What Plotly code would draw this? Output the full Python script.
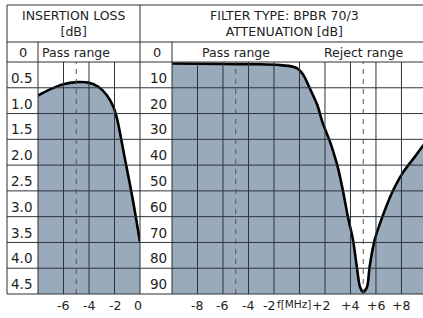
import plotly.graph_objects as go

# ---------------- data ----------------
LEFT_F = [-8, -7.06, -6.02, -4.96, -4.05, -3.27, -2.61, -2.09, -1.78, -1.51, -1.18, -0.57, 0]
LEFT_LOSS = [0.65, 0.53, 0.43, 0.39, 0.40, 0.48, 0.64, 0.87, 1.12, 1.45, 1.88, 2.66, 3.49]

RIGHT_F = [-10, -6, -3.1, -1.5, -0.5, -0.1, 0.3, 0.8, 1.4, 1.8, 2.4, 2.8, 3.0, 3.4, 3.8,
           4.2, 4.5, 4.75, 5.0, 5.3, 5.5, 5.9, 6.5, 7.25, 8.1, 9.05, 9.69, 10]
RIGHT_ATT = [0.6, 0.8, 0.9, 1.2, 1.8, 2.7, 5.0, 10.1, 16.7, 23.3, 31, 37.2, 40.7, 49.7, 60.1,
             69, 79.5, 87.3, 89.2, 87.3, 79.5, 69, 60.1, 50.8, 43, 36.8, 32.5, 31]

LEFT_ROW_LABELS = ["0.5", "1.0", "1.5", "2.0", "2.5", "3.0", "3.5", "4.0", "4.5"]
LEFT_ROW_VALUES = [0.5, 1.0, 1.5, 2.0, 2.5, 3.0, 3.5, 4.0, 4.5]
RIGHT_ROW_LABELS = ["10", "20", "30", "40", "50", "60", "70", "80", "90"]
RIGHT_ROW_VALUES = [10, 20, 30, 40, 50, 60, 70, 80, 90]

LEFT_TICKS = [-6, -4, -2, 0]
LEFT_TICK_TEXT = ["-6", "-4", "-2", "0"]
RIGHT_TICKS = [-8, -6, -4, -2, 0, 2, 4, 6, 8]
RIGHT_TICK_TEXT = ["-8", "-6", "-4", "-2", "f[MHz]", "+2", "+4", "+6", "+8"]
RIGHT_TICK_SHIFT = [0, 0, 0, -5, -5.5, -3.5, 0, 0, 0]

LEFT_GRID_X = [-6, -4, -2]
RIGHT_GRID_X = [-8, -6, -4, -2, 0, 2, 4, 6, 8]
LEFT_DASH_X = [-5]
RIGHT_DASH_X = [-5, 5]
RANGE_LABELS = ["Pass range", "Reject range"]
RANGE_CENTERS = [-5, 5]

LEFT_XRANGE = [-8, 0]
LEFT_YMAX = 4.5
RIGHT_XRANGE = [-10, 9.69]
RIGHT_YMAX = 90

# ---------------- layout helpers ----------------
W, H = 423, 318
def px(x):
    return x / W
def py(y):
    return 1 - y / H

FILL = "#99aabb"
LINE = "#2e2e2e"
GRID = "#2b333d"
TXT = "#222222"
FONT = "DejaVu Sans"

fig = go.Figure()

# left fill + curve
fig.add_trace(go.Scatter(x=LEFT_F, y=[LEFT_YMAX] * len(LEFT_F), mode="lines",
                         line=dict(width=0), showlegend=False, hoverinfo="skip",
                         xaxis="x", yaxis="y"))
fig.add_trace(go.Scatter(x=LEFT_F, y=LEFT_LOSS, mode="lines", fill="tonexty",
                         fillcolor=FILL, line=dict(color="black", width=2.6, shape="spline", smoothing=0.8),
                         showlegend=False, xaxis="x", yaxis="y"))
# right fill + curve
fig.add_trace(go.Scatter(x=RIGHT_F, y=[RIGHT_YMAX] * len(RIGHT_F), mode="lines",
                         line=dict(width=0), showlegend=False, hoverinfo="skip",
                         xaxis="x2", yaxis="y2"))
fig.add_trace(go.Scatter(x=RIGHT_F, y=RIGHT_ATT, mode="lines", fill="tonexty",
                         fillcolor=FILL, line=dict(color="black", width=2.6, shape="spline", smoothing=0.8),
                         showlegend=False, xaxis="x2", yaxis="y2"))

X_L0, X_L1, X_R0 = 38, 140, 172
Y_TOP, Y_HDR, Y_ROW, Y_BOT = 62, 42, 62, 294
Y_DOM = [py(Y_BOT), py(Y_TOP)]

ax_common = dict(showgrid=False, zeroline=False, showticklabels=False, ticks="",
                 showline=False, fixedrange=True)
fig.update_layout(
    width=W, height=H, margin=dict(l=0, r=0, t=0, b=0),
    paper_bgcolor="white", plot_bgcolor="white",
    xaxis=dict(domain=[px(X_L0), px(X_L1)], range=LEFT_XRANGE, anchor="y", **ax_common),
    yaxis=dict(domain=Y_DOM, range=[LEFT_YMAX, 0], anchor="x", **ax_common),
    xaxis2=dict(domain=[px(X_R0), 1], range=RIGHT_XRANGE, anchor="y2", **ax_common),
    yaxis2=dict(domain=Y_DOM, range=[RIGHT_YMAX, 0], anchor="x2", **ax_common),
    showlegend=False,
)

shapes = []
# gridlines above fill
for v in LEFT_ROW_VALUES[:-1]:
    shapes.append(dict(type="line", xref="paper", yref="y", x0=px(7), x1=1, y0=v, y1=v,
                       line=dict(color=GRID, width=1), layer="above"))
for v in LEFT_GRID_X:
    shapes.append(dict(type="line", xref="x", yref="y domain", x0=v, x1=v, y0=0, y1=1,
                       line=dict(color=GRID, width=1), layer="above"))
for v in RIGHT_GRID_X:
    shapes.append(dict(type="line", xref="x2", yref="y2 domain", x0=v, x1=v, y0=0, y1=1,
                       line=dict(color=GRID, width=1), layer="above"))
for v in LEFT_DASH_X:
    shapes.append(dict(type="line", xref="x", yref="y domain", x0=v, x1=v, y0=0, y1=1,
                       line=dict(color="#555555", width=1, dash="5px,5px"), layer="above"))
for v in RIGHT_DASH_X:
    shapes.append(dict(type="line", xref="x2", yref="y2 domain", x0=v, x1=v, y0=0, y1=1,
                       line=dict(color="#555555", width=1, dash="5px,5px"), layer="above"))

# frame
def hline(y, x0, x1):
    shapes.append(dict(type="line", xref="paper", yref="paper", x0=px(x0), x1=px(x1),
                       y0=py(y), y1=py(y), line=dict(color=LINE, width=1), layer="above"))
def vline(x, y0, y1):
    shapes.append(dict(type="line", xref="paper", yref="paper", x0=px(x), x1=px(x),
                       y0=py(y0), y1=py(y1), line=dict(color=LINE, width=1), layer="above"))

hline(5, 7, W)
hline(Y_HDR, 7, W)
hline(Y_ROW, 7, W)
hline(Y_BOT, 7, W)
vline(7, 5, Y_BOT)
vline(X_L0, Y_HDR, Y_BOT)
vline(X_L1, 5, Y_BOT)
vline(X_R0, Y_HDR, Y_BOT)
fig.update_layout(shapes=shapes)

ann = []
def text(t, x, y, xref="paper", yref="paper", size=12.5, xshift=0, yshift=0):
    ann.append(dict(text=t, x=x, y=y, xref=xref, yref=yref, showarrow=False,
                    xanchor="center", yanchor="middle", xshift=xshift, yshift=yshift,
                    font=dict(family=FONT, size=size, color=TXT)))

text("INSERTION LOSS<br>[dB]", px(73), py(24))
text("FILTER TYPE: BPBR 70/3<br>ATTENUATION [dB]", px(284), py(24))
text("0", px(22.5), py(53), size=13)
text("0", px(157), py(53), size=13)
text(RANGE_LABELS[0], RANGE_CENTERS[0], py(53), xref="x")
for lab, c in zip(RANGE_LABELS, RANGE_CENTERS):
    text(lab, c, py(53), xref="x2")
for lab, v in zip(LEFT_ROW_LABELS, LEFT_ROW_VALUES):
    text(lab, px(21), v - 0.25, yref="y", size=13.5, yshift=-3)
for lab, v in zip(RIGHT_ROW_LABELS, RIGHT_ROW_VALUES):
    text(lab, px(158), v - 5, yref="y2", size=13.5, yshift=-3)
for lab, v in zip(LEFT_TICK_TEXT, LEFT_TICKS):
    text(lab, v, py(305), xref="x", size=12.5, xshift=-2 if v == 0 else 0)
for lab, v, s in zip(RIGHT_TICK_TEXT, RIGHT_TICKS, RIGHT_TICK_SHIFT):
    is_unit = lab.startswith("f")
    text(lab, v, py(305), xref="x2", size=10.5 if is_unit else 12.5, xshift=s,
         yshift=1 if is_unit else 0)
fig.update_layout(annotations=ann)

fig.write_html("out.html", config={"displayModeBar": False},
               post_script="document.body.style.margin='0px';")
